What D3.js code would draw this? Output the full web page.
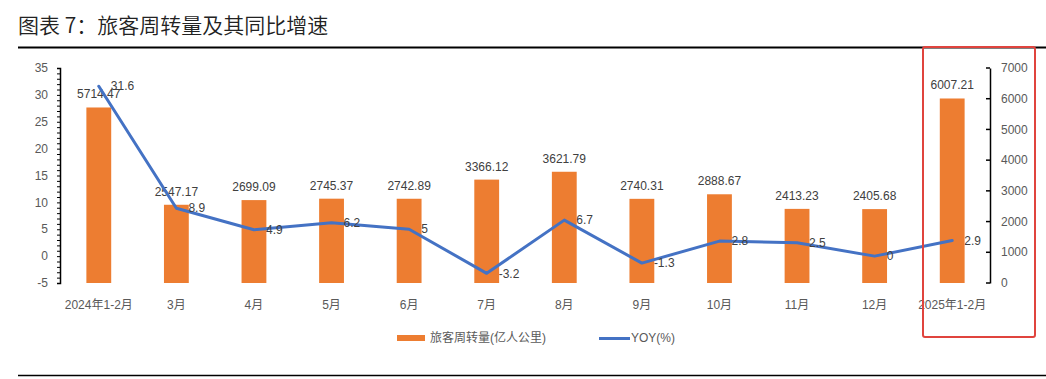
<!DOCTYPE html>
<html><head><meta charset="utf-8">
<script src="https://cdn.jsdelivr.net/npm/d3@7"></script>
<style>
body{margin:0;background:#fff;}
text{font-family:"Liberation Sans","Noto Sans CJK SC",sans-serif;}
</style></head>
<body><svg id="c" width="1046" height="379"></svg>
<script>
const categories = ["2024年1-2月","3月","4月","5月","6月","7月","8月","9月","10月","11月","12月","2025年1-2月"];
const volume = [5714.47,2547.17,2699.09,2745.37,2742.89,3366.12,3621.79,2740.31,2888.67,2413.23,2405.68,6007.21];
const yoy = [31.6,8.9,4.9,6.2,5,-3.2,6.7,-1.3,2.8,2.5,0,2.9];
const leftTicks = [-5,0,5,10,15,20,25,30,35];
const rightTicks = [0,1000,2000,3000,4000,5000,6000,7000];
const seriesNames = ["旅客周转量(亿人公里)","YOY(%)"];
const title = "图表 7：旅客周转量及其同比增速";

const svg = d3.select("#c");
const plotTop = 68, plotBottom = 283, plotLeft = 60, plotRight = 991;
const x = d3.scaleBand().domain(categories).range([plotLeft,plotRight]).paddingInner(0.68).paddingOuter(0.34);
const yL = d3.scaleLinear().domain([-5,35]).range([plotBottom,plotTop]);
const yR = d3.scaleLinear().domain([0,7000]).range([plotBottom,plotTop]);
const grey = "#595959";

// title
svg.append("text").attr("x",18).attr("y",33).attr("font-size",21).attr("fill","#222")
  .style("font-family","'Noto Sans CJK SC',sans-serif").style("font-weight",350).text(title);
svg.append("line").attr("x1",18).attr("x2",1046).attr("y1",47.5).attr("y2",47.5).attr("stroke","#000").attr("stroke-width",2);
svg.append("line").attr("x1",18).attr("x2",1046).attr("y1",375.5).attr("y2",375.5).attr("stroke","#000").attr("stroke-width",1.5);

// bars
svg.append("g").selectAll("rect").data(volume).join("rect")
  .attr("x",(d,i)=>x(categories[i])).attr("width",x.bandwidth())
  .attr("y",d=>yR(d)).attr("height",d=>yR(0)-yR(d)).attr("fill","#ED7D31");

// left axis with minor ticks
const gL = svg.append("g").attr("transform",`translate(${plotLeft},0)`);
gL.call(d3.axisLeft(yL).tickValues(d3.range(-5,36,1)).tickSize(3).tickFormat(""));
gL.select(".domain").attr("stroke","#000").attr("stroke-width",1.5);
gL.selectAll(".tick line").attr("stroke","#000");
gL.selectAll(".lbl").data(leftTicks).join("text").attr("class","lbl")
  .attr("x",-12).attr("y",d=>yL(d)).attr("dy","0.35em").attr("text-anchor","end")
  .attr("font-size",12).attr("fill",grey).text(d=>d);

// right axis
const gR = svg.append("g").attr("transform",`translate(${plotRight-1},0)`);
gR.call(d3.axisRight(yR).tickValues(rightTicks).tickSize(0).tickFormat(""));
gR.select(".domain").attr("stroke","#000").attr("stroke-width",1.5);
gR.selectAll(".tk").data(rightTicks).join("line").attr("class","tk")
  .attr("x1",-4).attr("x2",0).attr("y1",d=>yR(d)).attr("y2",d=>yR(d)).attr("stroke","#000").attr("stroke-width",1.5);
gR.selectAll(".lbl").data(rightTicks).join("text").attr("class","lbl")
  .attr("x",11).attr("y",d=>yR(d)).attr("dy","0.35em").attr("text-anchor","start")
  .attr("font-size",12).attr("fill",grey).text(d=>d);

// x labels
svg.append("g").selectAll("text").data(categories).join("text")
  .attr("x",d=>x(d)+x.bandwidth()/2).attr("y",309).attr("text-anchor","middle")
  .attr("font-size",12).attr("fill",grey).text(d=>d);

// bar labels
svg.append("g").selectAll("text").data(volume).join("text")
  .attr("x",(d,i)=>x(categories[i])+x.bandwidth()/2).attr("y",d=>yR(d)-9).attr("text-anchor","middle")
  .attr("font-size",12).attr("fill","#404040").text(d=>d.toFixed(2));

// line
const cx = i=>x(categories[i])+x.bandwidth()/2;
svg.append("path").datum(yoy)
  .attr("d",d3.line().x((d,i)=>cx(i)).y(d=>yL(d)))
  .attr("fill","none").attr("stroke","#4472C4").attr("stroke-width",3).attr("stroke-linejoin","round").attr("stroke-linecap","round");
svg.append("g").selectAll("text").data(yoy).join("text")
  .attr("x",(d,i)=>cx(i)+12).attr("y",d=>yL(d)).attr("dy","0.35em")
  .attr("font-size",12).attr("fill","#404040").text(d=>d);

// legend
const lg = svg.append("g");
lg.append("rect").attr("x",397).attr("y",335).attr("width",28).attr("height",6).attr("fill","#ED7D31");
lg.append("text").attr("x",430).attr("y",338).attr("dy","0.35em").attr("font-size",12).attr("fill",grey).text(seriesNames[0]);
lg.append("line").attr("x1",599).attr("x2",630).attr("y1",338.5).attr("y2",338.5).attr("stroke","#4472C4").attr("stroke-width",3);
lg.append("text").attr("x",631).attr("y",338).attr("dy","0.35em").attr("font-size",12).attr("fill",grey).text(seriesNames[1]);

// red highlight box
svg.append("rect").attr("x",923).attr("y",47).attr("width",112).attr("height",290).attr("rx",2)
  .attr("fill","none").attr("stroke","#E0443E").attr("stroke-width",2);
</script></body></html>
